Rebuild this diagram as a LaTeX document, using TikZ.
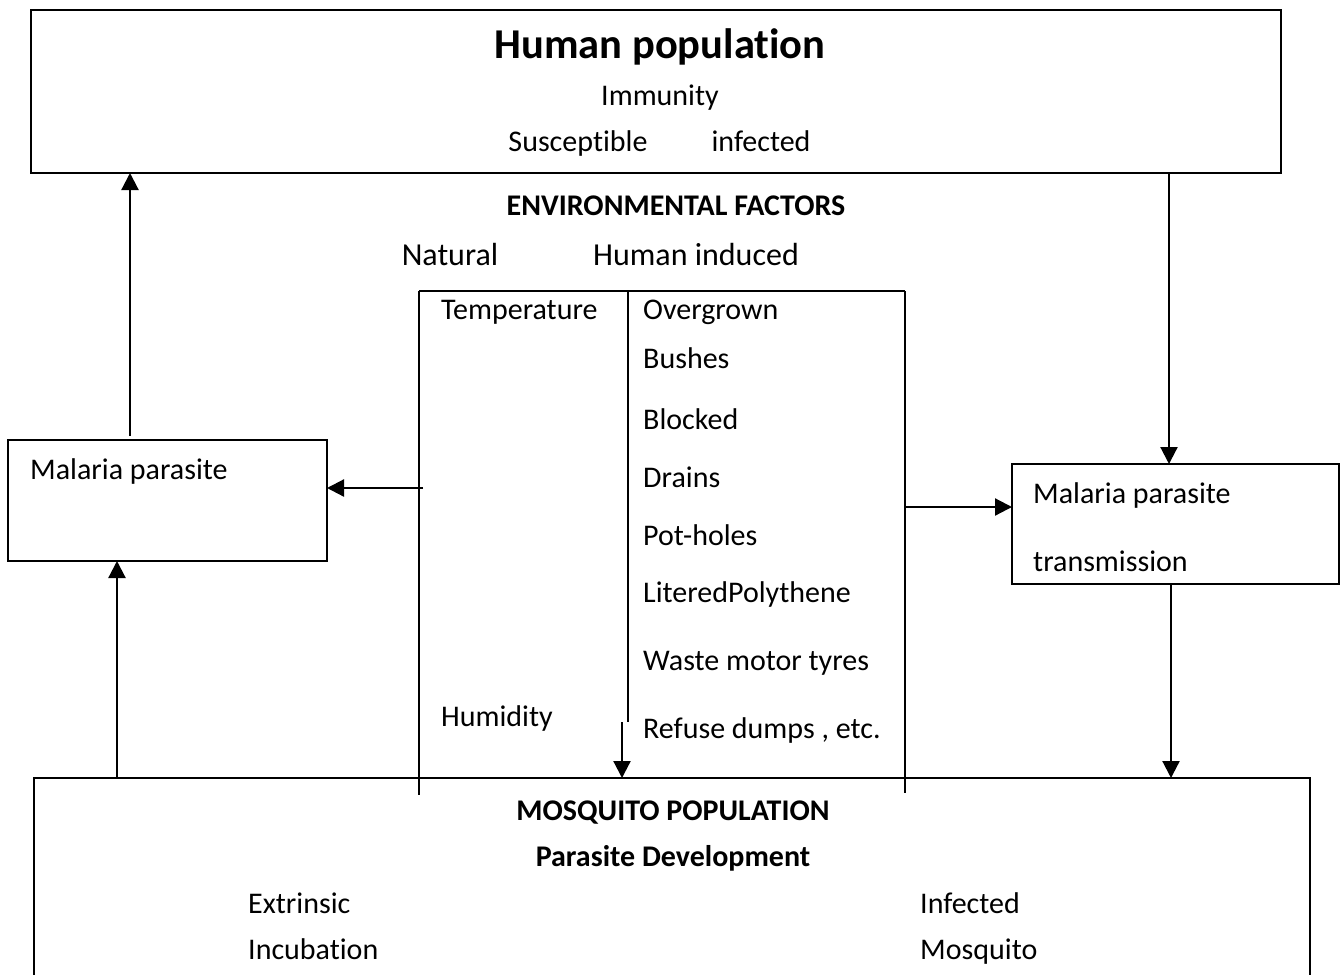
\documentclass[tikz,border=0pt]{standalone}
\usepackage{fontspec}
\setmainfont{Carlito}[Ligatures=NoCommon]
\usetikzlibrary{arrows.meta}
\begin{document}
\begin{tikzpicture}[x=1pt,y=-1pt,
  boxline/.style={draw=black,line width=1.8pt},
  tline/.style={draw=black,line width=2pt},
  arr/.style={draw=black,line width=2.2pt,-{Triangle[length=17pt 0,width=17pt 0]}},
  body/.style={font=\fontsize{30}{35}\selectfont,inner sep=0pt},
  bodyb/.style={font=\fontsize{30}{35}\selectfont\bfseries,inner sep=0pt},
  big/.style={font=\fontsize{32}{37}\selectfont,inner sep=0pt},
  title/.style={font=\fontsize{42.5}{48}\selectfont\bfseries,inner sep=0pt}]
\clip (0,0) rectangle (1340,974);
\fill[white] (0,0) rectangle (1340,974);
% boxes
\draw[boxline] (31,10) rectangle (1281,173);
\draw[boxline] (8,440) rectangle (327,561);
\draw[boxline] (1012,464) rectangle (1339,584);
\draw[boxline] (34,778) rectangle (1310,1000);
% top box texts
\node[title,anchor=base] (hp) at (660,59) {Human population};
\node[body,anchor=base] (imm) at (660,105) {Immunity};
\node[body,anchor=base] (sus) at (578,151) {Susceptible};
\node[body,anchor=base] (inf) at (761,151) {infected};
% environmental
\node[bodyb,anchor=base] (env) at (676,215) {ENVIRONMENTAL FACTORS};
\node[big,anchor=base] (nat) at (450,265) {Natural};
\node[big,anchor=base] (hind) at (696,265) {Human induced};
% table lines
\draw[tline] (419,291) -- (905,291);
\draw[tline] (419,291) -- (419,795);
\draw[tline] (628,291) -- (628,722);
\draw[tline] (905,291) -- (905,793);
\node[body,anchor=base west] (temp) at (441,319) {Temperature};
\node[body,anchor=base west] (hum) at (441,726) {Humidity};
\node[body,anchor=base west] (h1) at (643,319) {Overgrown};
\node[body,anchor=base west] (h2) at (643,368) {Bushes};
\node[body,anchor=base west] (h3) at (643,429) {Blocked};
\node[body,anchor=base west] (h4) at (643,487) {Drains};
\node[body,anchor=base west] (h5) at (643,545) {Pot-holes};
\node[body,anchor=base west] (h6) at (643,602) {LiteredPolythene};
\node[body,anchor=base west] (h7) at (643,670) {Waste motor tyres};
\node[body,anchor=base west] (h8) at (643,738) {Refuse dumps , etc.};
% side boxes texts
\node[body,anchor=base west] (mpl) at (30,479) {Malaria parasite};
\node[body,anchor=base west] (mpr) at (1033,503) {Malaria parasite};
\node[body,anchor=base west] (tr) at (1033,571) {transmission};
% mosquito
\node[bodyb,anchor=base] (mos) at (673,820) {MOSQUITO POPULATION};
\node[bodyb,anchor=base] (pd) at (673,866) {Parasite Development};
\node[body,anchor=base west] (ext) at (248,913) {Extrinsic};
\node[body,anchor=base west] (inc) at (248,959) {Incubation};
\node[body,anchor=base west] (infm) at (920,913) {Infected};
\node[body,anchor=base west] (mosq) at (920,959) {Mosquito};
% connector coordinates
\coordinate (c1s) at (130,436); \coordinate (c1e) at (130,173);
\coordinate (c2s) at (117,778); \coordinate (c2e) at (117,561);
\coordinate (c3s) at (423,488); \coordinate (c3e) at (327,488);
\coordinate (c4s) at (1169,173); \coordinate (c4e) at (1169,464);
\coordinate (c5s) at (905,507); \coordinate (c5e) at (1012,507);
\coordinate (c6s) at (1171,584); \coordinate (c6e) at (1171,778);
\coordinate (c7s) at (622,722); \coordinate (c7e) at (622,778);
\draw[arr] (c1s) -- (c1e);
\draw[arr] (c2s) -- (c2e);
\draw[arr] (c3s) -- (c3e);
\draw[arr] (c4s) -- (c4e);
\draw[arr] (c5s) -- (c5e);
\draw[arr] (c6s) -- (c6e);
\draw[arr] (c7s) -- (c7e);
\end{tikzpicture}
\end{document}
